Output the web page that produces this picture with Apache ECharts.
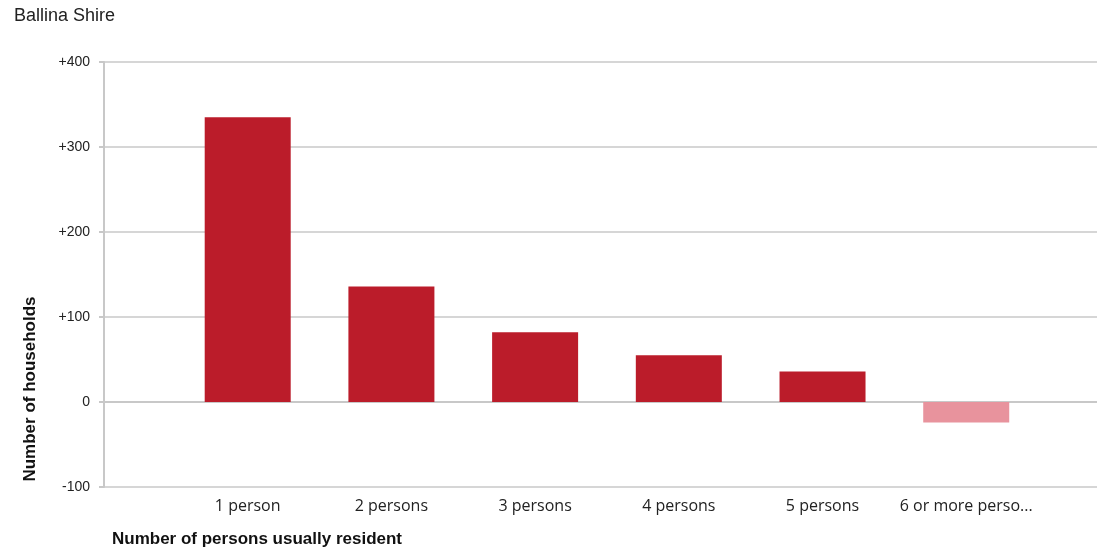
<!DOCTYPE html>
<html>
<head>
<meta charset="utf-8">
<script src="https://cdn.jsdelivr.net/npm/echarts@6/dist/echarts.min.js"></script>
<style>
html,body{margin:0;padding:0;background:#fff;}
#chart{width:1097px;height:553px;}
</style>
</head>
<body>
<div id="chart"></div>
<script>
const title = 'Ballina Shire';
const categories = ['1 person', '2 persons', '3 persons', '4 persons', '5 persons', '6 or more perso...'];
const values = [335, 136, 82, 55, 36, -24];
const yTicks = [-100, 0, 100, 200, 300, 400];
const yAxisTitle = 'Number of households';
const xAxisTitle = 'Number of persons usually resident';

const posColor = '#bb1c2a';
const negColor = '#e8939d';

const chart = echarts.init(document.getElementById('chart'), null, {renderer: 'canvas'});
const barData = values.map((v, i) => ({
  value: [i + 1, v],
  itemStyle: {color: v < 0 ? negColor : posColor}
}));

chart.setOption({
  animation: false,
  backgroundColor: '#fff',
  grid: {left: 104, top: 62, right: 0, bottom: 66, containLabel: false},
  graphic: [
    {type: 'text', left: 14, top: 7, style: {text: title, font: '18px "Liberation Sans", Arial, sans-serif', fill: '#222'}},
    {type: 'text', x: 30, y: 389, rotation: Math.PI / 2,
     style: {text: yAxisTitle, font: 'bold 17px "Liberation Sans", Arial, sans-serif', fill: '#111', textAlign: 'center', textVerticalAlign: 'middle'}},
    {type: 'text', left: 112, top: 531, style: {text: xAxisTitle, font: 'bold 17px "Liberation Sans", Arial, sans-serif', fill: '#111'}}
  ],
  xAxis: {
    type: 'value',
    min: 0,
    max: 6.91,
    interval: 1,
    splitLine: {show: false},
    axisLine: {show: true, lineStyle: {color: '#c8c8c8', width: 2}},
    axisTick: {show: false},
    axisLabel: {
      showMaxLabel: false,
      showMinLabel: false,
      margin: 11,
      color: '#222',
      fontSize: 16,
      fontFamily: '"Open Sans", Arial, sans-serif',
      formatter: v => (Number.isInteger(v) && v >= 1 && v <= categories.length) ? categories[v - 1] : ''
    }
  },
  yAxis: {
    type: 'value',
    min: yTicks[0],
    max: yTicks[yTicks.length - 1],
    interval: 100,
    axisLine: {show: true, lineStyle: {color: '#c8c8c8', width: 2}},
    axisTick: {show: true, length: 5, lineStyle: {color: '#c8c8c8', width: 2}},
    splitLine: {show: true, lineStyle: {color: '#d6d6d6', width: 2}},
    axisLabel: {
      color: '#222',
      fontSize: 14,
      margin: 14,
      fontFamily: '"Liberation Sans", Arial, sans-serif',
      formatter: v => v > 0 ? '+' + v : String(v)
    }
  },
  series: [{
    type: 'bar',
    barWidth: 86,
    data: barData
  }]
});
</script>
</body>
</html>
